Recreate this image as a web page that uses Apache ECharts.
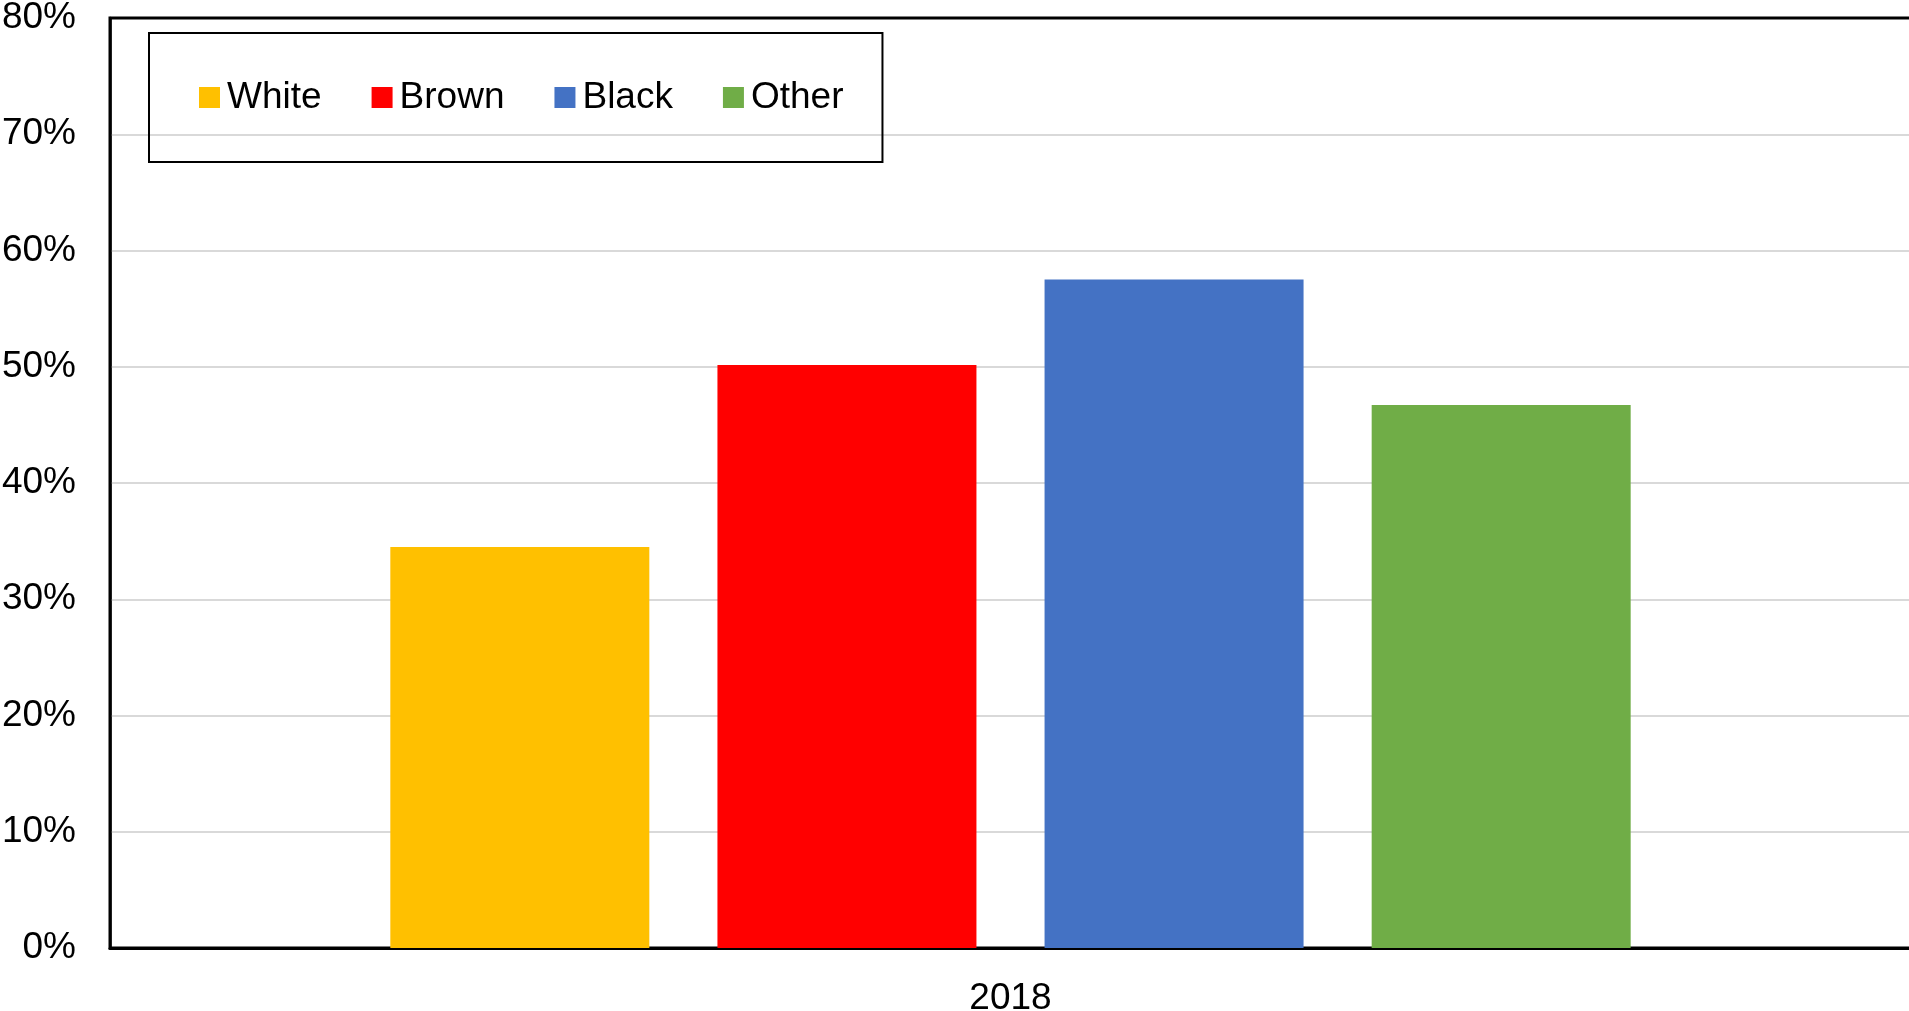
<!DOCTYPE html>
<html><head><meta charset="utf-8">
<script src="https://cdn.jsdelivr.net/npm/echarts@6/dist/echarts.min.js"></script>
<style>html,body{margin:0;padding:0;background:#fff}#c{width:1909px;height:1011px}</style>
</head><body><div id="c"></div>
<script>
var categories = ['2018'];
var seriesNames = ['White', 'Brown', 'Black', 'Other'];
var white = [34.5];
var brown = [50.15];
var black = [57.5];
var other = [46.7];
var colors = ['#FFC000', '#FF0000', '#4472C4', '#70AD47'];
var yTicks = {min: 0, max: 80, interval: 10};

var values = [white, brown, black, other];
var font = 'Liberation Sans, Arial, sans-serif';
var chart = echarts.init(document.getElementById('c'), null, {renderer: 'canvas'});
var series = seriesNames.map(function (n, i) {
  return {
    name: n, type: 'bar', data: values[i],
    barWidth: 259, barGap: '26.3%',
    itemStyle: {color: colors[i]},
    emphasis: {disabled: true}
  };
});
var nLines = (yTicks.max - yTicks.min) / yTicks.interval + 1;
var splitColors = [];
for (var k = 0; k < nLines; k++) {
  splitColors.push(k === 0 || k === nLines - 1 ? 'rgba(0,0,0,0)' : '#D9D9D9');
}
chart.setOption({
  animation: false,
  color: colors,
  grid: {left: 110, right: -2, top: 18, bottom: 63, show: true, borderColor: '#000', borderWidth: 3,
         containLabel: false, outerBoundsMode: 'none'},
  legend: {
    left: 149, top: 33,
    orient: 'horizontal',
    icon: 'rect', itemWidth: 21, itemHeight: 21, itemGap: 50,
    borderColor: '#000', borderWidth: 2,
    padding: [46, 39, 46, 50],
    textStyle: {fontSize: 37, fontFamily: font, color: '#000', padding: [0, 0, 0, 2]},
    data: seriesNames
  },
  xAxis: {
    type: 'category', data: categories,
    axisLine: {show: true, lineStyle: {color: '#000', width: 3}},
    axisTick: {show: false},
    axisLabel: {fontSize: 37, fontFamily: font, color: '#000', margin: 32},
    splitLine: {show: false}
  },
  yAxis: {
    type: 'value', min: yTicks.min, max: yTicks.max, interval: yTicks.interval,
    axisLine: {show: true, lineStyle: {color: '#000', width: 2.5}},
    axisTick: {show: false},
    axisLabel: {fontSize: 37, fontFamily: font, color: '#000', margin: 34, formatter: '{value}%'},
    splitLine: {show: true, lineStyle: {color: splitColors, width: 2}}
  },
  series: series
});
</script></body></html>
